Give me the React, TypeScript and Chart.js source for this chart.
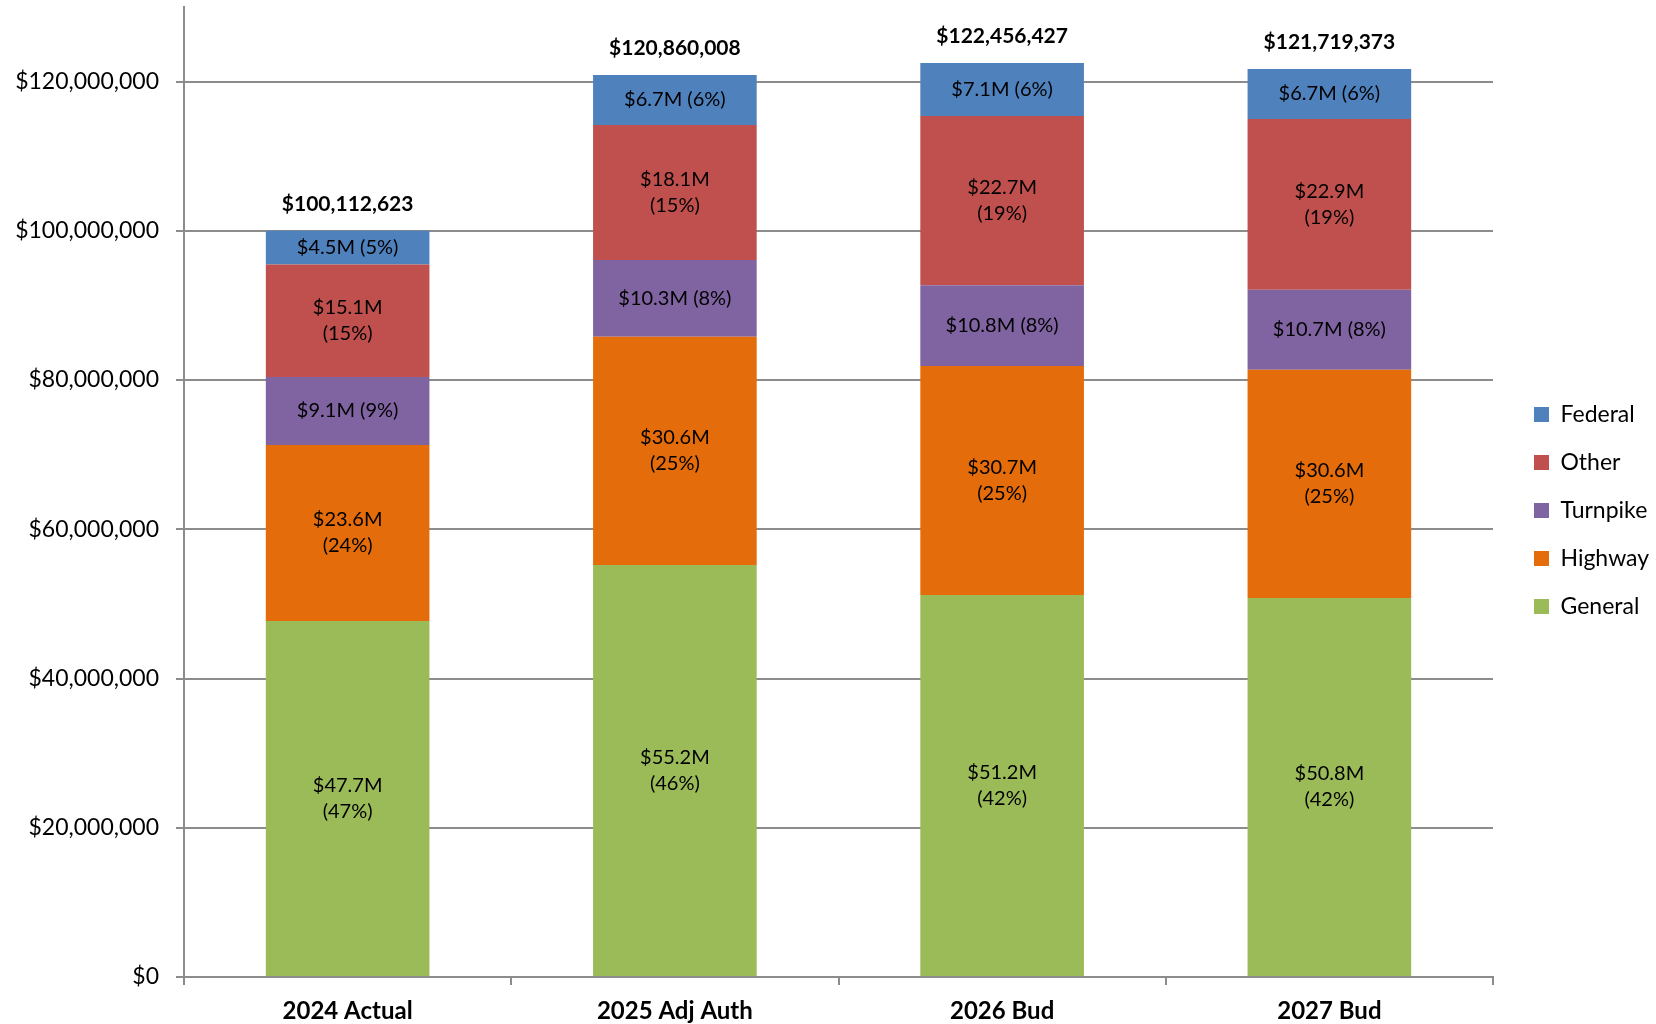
import React, { useEffect, useRef } from "react";
import { Chart, registerables } from "chart.js";

Chart.register(...registerables);

const categories = ["2024 Actual", "2025 Adj Auth", "2026 Bud", "2027 Bud"];
// values in millions of dollars
const general = [47.7, 55.2, 51.2, 50.8];
const highway = [23.6, 30.6, 30.7, 30.6];
const turnpike = [9.1, 10.3, 10.8, 10.7];
const other = [15.1, 18.1, 22.7, 22.9];
const federal = [4.5, 6.7, 7.1, 6.7];
// percentage labels as shown
const generalPct = [47, 46, 42, 42];
const highwayPct = [24, 25, 25, 25];
const turnpikePct = [9, 8, 8, 8];
const otherPct = [15, 15, 19, 19];
const federalPct = [5, 6, 6, 6];
const totals = ["$100,112,623", "$120,860,008", "$122,456,427", "$121,719,373"];
const yTickValues = [0, 20000000, 40000000, 60000000, 80000000, 100000000, 120000000];
const yMax = 130000000;

const FONT = "Lato";
const GRID = "#8c8c8c";

const seriesNames = ["General", "Highway", "Turnpike", "Other", "Federal"];
const seriesValues = [general, highway, turnpike, other, federal];
const seriesPct = [generalPct, highwayPct, turnpikePct, otherPct, federalPct];
const seriesColors = ["#9BBB59", "#E46C0A", "#8064A2", "#C0504D", "#4F81BD"];

const helperPlugin = {
  id: "helper",
  beforeLayout(chart: any) {
    const lg = chart.legend;
    if (lg && !lg._patched) {
      const orig = lg.fit.bind(lg);
      lg.fit = function () {
        orig();
        this.width = 163;
      };
      lg._patched = true;
    }
  },
  afterLayout(chart: any) {
    const lg = chart.legend;
    if (lg) {
      lg.left += 16;
      lg.right += 16;
      lg.top -= 5;
      lg.bottom -= 5;
    }
  },
  afterDatasetsDraw(chart: any) {
    const ctx = chart.ctx;
    ctx.save();
    ctx.fillStyle = "#000";
    ctx.textAlign = "center";
    ctx.textBaseline = "middle";
    ctx.font = `20px ${FONT}`;
    chart.data.datasets.forEach((ds: any, di: number) => {
      const meta = chart.getDatasetMeta(di);
      meta.data.forEach((el: any, i: number) => {
        const v = seriesValues[di][i];
        const p = seriesPct[di][i];
        const cy = (el.y + el.base) / 2;
        const h = Math.abs(el.base - el.y);
        const a = `$${v.toFixed(1)}M`;
        const b = `(${p}%)`;
        if (h > 100) {
          ctx.fillText(a, el.x, cy - 13);
          ctx.fillText(b, el.x, cy + 13);
        } else {
          ctx.fillText(`${a} ${b}`, el.x, cy);
        }
      });
    });
    const last = chart.getDatasetMeta(chart.data.datasets.length - 1);
    ctx.font = `bold 21px ${FONT}`;
    last.data.forEach((el: any, i: number) => {
      ctx.fillText(totals[i], el.x, el.y - 27);
    });
    ctx.restore();
  },
};

export default function App() {
  const ref = useRef<HTMLCanvasElement | null>(null);
  useEffect(() => {
    if (!ref.current) return;
    const chart = new Chart(ref.current, {
      type: "bar",
      data: {
        labels: categories,
        datasets: seriesNames.map((name, i) => ({
          label: name,
          data: seriesValues[i].map((v) => v * 1e6),
          backgroundColor: seriesColors[i],
          borderWidth: 0,
          categoryPercentage: 0.5,
          barPercentage: 1,
        })),
      },
      options: {
        responsive: false,
        animation: false,
        layout: { padding: { top: 7, left: 0, right: 0, bottom: 0 } },
        plugins: {
          tooltip: { enabled: false },
          legend: {
            position: "right",
            reverse: true,
            labels: {
              boxWidth: 15,
              boxHeight: 15,
              padding: 25,
              color: "#000",
              font: { family: FONT, size: 23 },
            },
          },
        },
        scales: {
          x: {
            stacked: true,
            grid: {
              drawOnChartArea: false,
              drawTicks: true,
              tickLength: 8,
              color: GRID,
              lineWidth: 2,
            },
            border: { color: GRID, width: 2 },
            ticks: {
              color: "#000",
              padding: 12,
              font: { family: FONT, size: 24, weight: "bold" },
            },
            afterFit(scale: any) {
              scale.height = 47;
              scale.paddingLeft = 0;
              scale.paddingRight = 0;
            },
          },
          y: {
            stacked: true,
            min: 0,
            max: yMax,
            grid: {
              color: GRID,
              lineWidth: 2,
              tickLength: 8,
            },
            border: { color: GRID, width: 2 },
            ticks: {
              color: "#000",
              padding: 17,
              font: { family: FONT, size: 23 },
              callback: (v: any) => "$" + Number(v).toLocaleString("en-US"),
            },
            afterBuildTicks(scale: any) {
              scale.ticks = yTickValues.map((v) => ({ value: v }));
            },
            afterFit(scale: any) {
              scale.width = 184;
              scale.paddingTop = 0;
              scale.paddingBottom = 0;
            },
          },
        },
      },
      plugins: [helperPlugin],
    } as any);
    return () => chart.destroy();
  }, []);
  return (
    <div style={{ position: "absolute", left: 0, top: 0, width: 1656, height: 1024, background: "#fff" }}>
      <canvas ref={ref} width={1656} height={1024} />
    </div>
  );
}
